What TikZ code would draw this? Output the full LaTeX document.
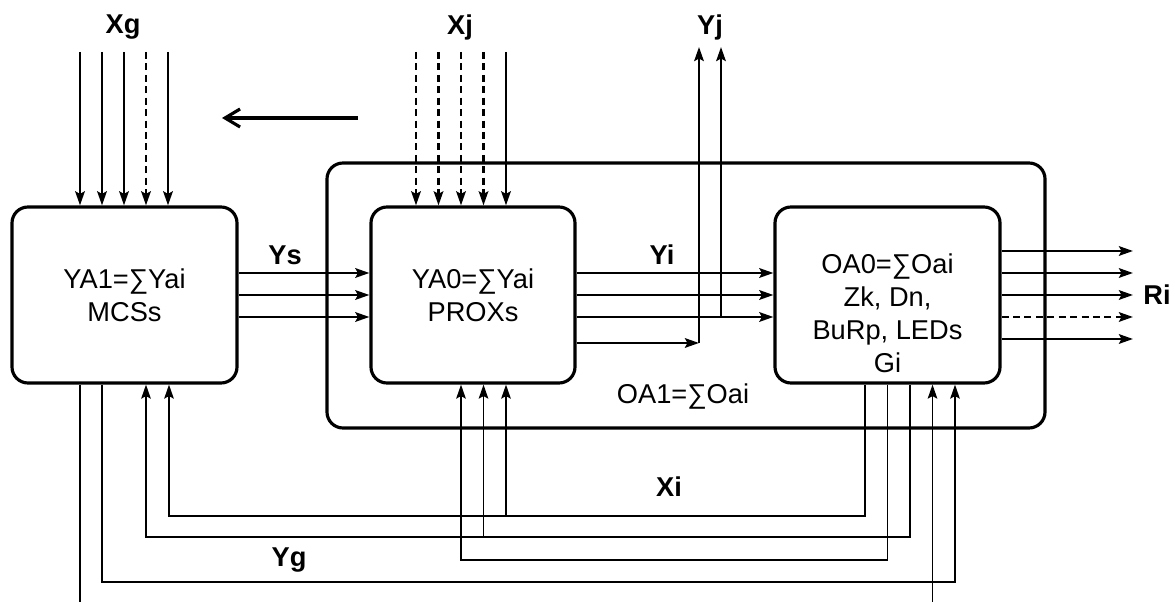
\documentclass[tikz,border=0pt]{standalone}
\usepackage{fontspec}
\setmainfont{Liberation Sans}
\usetikzlibrary{arrows.meta}

\tikzset{
  blk/.style={draw,line width=1.8pt,rounded corners=0.32cm,align=center},
  sig/.style={line width=1.5pt},
  fb/.style={line width=1.1pt},
  dsh/.style={dash pattern=on 4pt off 2.5pt},
  lbl/.style={font=\fontsize{15.5}{18.8}\selectfont\bfseries}
}

\begin{document}
\begin{tikzpicture}[>={Stealth[length=0.28cm,width=0.19cm,inset=0.05cm]},
  font=\fontsize{15.5}{18.8}\selectfont]
\useasboundingbox (0,0) rectangle (23.5,12.04);
% outer assembly
\node[blk,minimum width=14.36cm,minimum height=5.30cm] (oa1) at (13.72,6.13) {};
\node (oa1txt) at (13.66,4.10) {OA1=∑Oai};
% blocks
\node[blk,minimum width=4.50cm,minimum height=3.52cm] (mcs) at (2.49,6.14) {YA1=∑Yai\\MCSs};
\node[blk,minimum width=4.08cm,minimum height=3.52cm] (prox) at (9.46,6.14) {YA0=∑Yai\\PROXs};
\node[blk,minimum width=4.50cm,minimum height=3.52cm] (oa0) at (17.75,6.14) {};
\node[align=center] (oa0txt) at (17.75,5.78) {OA0=∑Oai\\Zk, Dn,\\BuRp, LEDs\\Gi};
% Xg inputs
\foreach \x in {1.60,2.04,2.48,3.36}
  \draw[->,sig] (\x,11.00) -- (mcs.north -| \x,0);
\draw[->,sig,dsh] (2.92,11.00) -- (mcs.north -| 2.92,0);
\node[lbl] (xg) at (2.46,11.50) {Xg};
% Xj inputs
\foreach \x in {8.32,8.77,9.22,9.67}
  \draw[->,sig,dsh] (\x,11.00) -- (prox.north -| \x,0);
\draw[->,sig] (10.12,11.00) -- (prox.north -| 10.12,0);
\node[lbl] (xj) at (9.20,11.50) {Xj};
% direction
\draw[-{Straight Barb[length=0.3cm,width=0.36cm]},line width=1.8pt] (7.16,9.68) -- (4.44,9.68);
% Ys and Yi
\foreach \y in {6.58,6.14,5.70} {
  \draw[->,sig] (mcs.east |- 0,\y) -- (prox.west |- 0,\y);
  \draw[->,sig] (prox.east |- 0,\y) -- (oa0.west |- 0,\y);
}
\node[lbl] (ys) at (5.70,6.94) {Ys};
\node[lbl] (yi) at (13.24,6.94) {Yi};
% Yj outputs
\coordinate (yj1) at (13.98,11.10);
\coordinate (yj2) at (14.42,11.10);
\draw[->,sig] (prox.east |- 0,5.18) -- (13.98,5.18);
\draw[->,sig] (13.98,5.18) -- (yj1);
\draw[->,sig] (14.42,5.70) -- (yj2);
\node[lbl] (yj) at (14.20,11.50) {Yj};
% Ri outputs
\foreach \y in {7.02,6.58,6.14,5.26}
  \draw[->,sig] (oa0.east |- 0,\y) -- (22.66,\y);
\draw[->,sig,dsh] (oa0.east |- 0,5.70) -- (22.66,5.70);
\node[lbl] (ri) at (23.14,6.14) {Ri};
% feedback below
\draw[fb] (mcs.south -| 1.60,0) -- (1.60,0);
\draw[->,fb] (mcs.south -| 2.04,0) |- (19.10,0.40) -- (oa0.south -| 19.10,0);
\draw[->,fb] (18.65,0) -- (oa0.south -| 18.65,0);
\draw[->,fb] (oa0.south -| 17.30,0) |- (3.38,1.72) -- (mcs.south -| 3.38,0);
\draw[->,fb] (10.12,1.72) -- (prox.south -| 10.12,0);
\draw[->,fb] (oa0.south -| 17.75,0) |- (9.22,0.84) -- (prox.south -| 9.22,0);
\draw[->,fb] (oa0.south -| 18.20,0) |- (2.92,1.30) -- (mcs.south -| 2.92,0);
\draw[->,fb] (9.67,1.30) -- (prox.south -| 9.67,0);
\node[lbl] (xi) at (13.38,2.30) {Xi};
\node[lbl] (yg) at (5.78,0.84) {Yg};
\end{tikzpicture}
\end{document}
